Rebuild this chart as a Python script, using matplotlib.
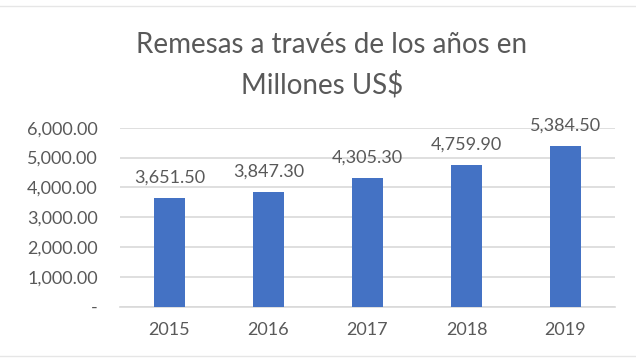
import matplotlib
matplotlib.use('Agg')
from matplotlib import pyplot as plt
from matplotlib.ticker import FuncFormatter

years = ['2015', '2016', '2017', '2018', '2019']
remesas = [3651.50, 3847.30, 4305.30, 4759.90, 5384.50]
yticks = [0, 1000, 2000, 3000, 4000, 5000, 6000]

plt.rcParams['font.family'] = ['Lato', 'DejaVu Sans']
gray_text = '#595959'
grid_color = '#d9d9d9'
bar_color = '#4472c4'


def fmt_money(v, pos=None):
    # accounting style: zero shown as a dash
    if v == 0:
        return '-'
    return '{:,.2f}'.format(v)


fig = plt.figure(figsize=(6.36, 3.58), dpi=100)
ax = fig.add_axes([0.1887, 0.1433, 0.7783, 0.5])

x = range(len(years))
bars = ax.bar(x, remesas, width=0.31, color=bar_color, zorder=3)
for rect, val in zip(bars, remesas):
    ax.annotate(fmt_money(val), (rect.get_x() + rect.get_width() / 2, val),
                xytext=(0, 9), textcoords='offset points',
                ha='center', va='bottom', fontsize=13, color=gray_text)

ax.set_xlim(-0.5, len(years) - 0.5)
ax.set_ylim(0, 6000)
ax.set_yticks(yticks)
ax.yaxis.set_major_formatter(FuncFormatter(fmt_money))
ax.set_xticks(list(x))
ax.set_xticklabels(years)
ax.grid(axis='y', color=grid_color, linewidth=1.2, zorder=0)
for side in ['top', 'right', 'left']:
    ax.spines[side].set_visible(False)
ax.spines['bottom'].set_color(grid_color)
ax.spines['bottom'].set_linewidth(1.2)
ax.tick_params(axis='both', length=0, labelsize=13, labelcolor=gray_text)
ax.tick_params(axis='y', pad=16)
ax.tick_params(axis='x', pad=11)

fig.text(0.522, 0.875, 'Remesas a través de los años en', ha='center', va='center',
         fontsize=20, color=gray_text)
fig.text(0.507, 0.763, 'Millones US$', ha='center', va='center',
         fontsize=20, color=gray_text)

# thin frame lines at top and bottom of the chart area
fig.add_artist(plt.Line2D([0, 1], [1 - 6 / 358, 1 - 6 / 358], color='#e6e6e6', linewidth=1))
fig.add_artist(plt.Line2D([0, 1], [2 / 358, 2 / 358], color='#e6e6e6', linewidth=1))

plt.savefig('out.png', dpi=100)
plt.close()
